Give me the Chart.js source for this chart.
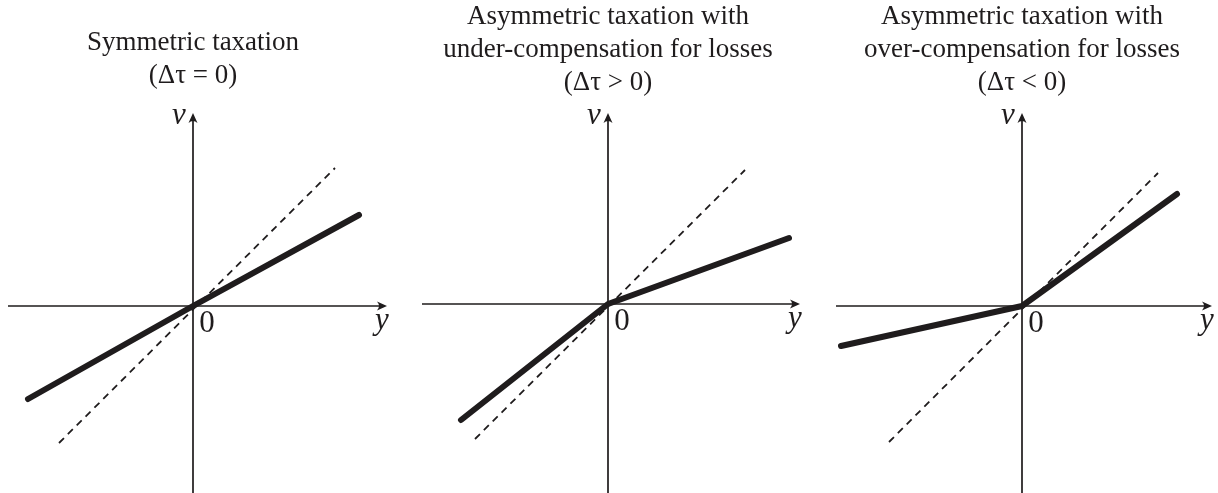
<!DOCTYPE html>
<html>
<head>
<meta charset="utf-8">
<script src="https://cdn.jsdelivr.net/npm/chart.js@4.4.0/dist/chart.umd.min.js"></script>
<style>
    body { margin: 0; background: #fff; }
    .panel { position: absolute; top: 0; height: 493px; }
</style>
</head>
<body>
<div class="panel" style="left:0;width:405px"><canvas id="chart1" width="405" height="493"></canvas></div>
<div class="panel" style="left:405px;width:405px"><canvas id="chart2" width="405" height="493"></canvas></div>
<div class="panel" style="left:810px;width:408px"><canvas id="chart3" width="408" height="493"></canvas></div>
<script>
// Titles
const titles1 = ['Symmetric taxation', '(\u0394\u03c4 = 0)'];
const titles2 = ['Asymmetric taxation with', 'under-compensation for losses', '(\u0394\u03c4 > 0)'];
const titles3 = ['Asymmetric taxation with', 'over-compensation for losses', '(\u0394\u03c4 < 0)'];

// Axis labels
const xLabel = 'y';
const vLabel = 'v';
const originLabel = '0';

// Panel 1: symmetric taxation (y -> v)
const thick1Y = [-1.65, 0, 1.66];
const thick1V = [-0.93, 0, 0.91];
const dash1Y = [-1.34, 1.42];
const dash1V = [-1.37, 1.38];

// Panel 2: under-compensation for losses
const thick2Y = [-1.47, 0, 1.81];
const thick2V = [-1.16, 0, 0.66];
const dash2Y = [-1.33, 1.37];
const dash2V = [-1.35, 1.34];

// Panel 3: over-compensation for losses
const thick3Y = [-1.81, 0, 1.55];
const thick3V = [-0.40, 0, 1.12];
const dash3Y = [-1.33, 1.36];
const dash3V = [-1.36, 1.33];

const INK = '#1f1c1d';
const SERIF = "'Liberation Serif', 'Times New Roman', serif";

function toPoints(xs, vs) {
    return xs.map((x, i) => ({ x, y: vs[i] }));
}

function drawArrow(ctx, x, y, dir) {
    const len = 10, half = 4.5;
    ctx.save();
    ctx.translate(x, y);
    if (dir === 'up') ctx.rotate(-Math.PI / 2);
    ctx.beginPath();
    ctx.moveTo(0, 0);
    ctx.lineTo(-len, -half);
    ctx.quadraticCurveTo(-len * 0.6, 0, -len, half);
    ctx.closePath();
    ctx.fillStyle = INK;
    ctx.fill();
    ctx.restore();
}

// Axes through the origin with arrows, plus the y / v / 0 labels
const axesPlugin = {
    id: 'axes',
    beforeDatasetsDraw(chart, args, opts) {
        const ctx = chart.ctx;
        const sx = chart.scales.x, sy = chart.scales.y;
        const ox = sx.getPixelForValue(0), oy = sy.getPixelForValue(0);
        const x0 = sx.getPixelForValue(opts.xFrom), x1 = sx.getPixelForValue(opts.xTo);
        const y0 = sy.getPixelForValue(opts.vFrom), y1 = sy.getPixelForValue(opts.vTo);
        ctx.save();
        ctx.strokeStyle = INK;
        ctx.lineWidth = 1.7;
        ctx.beginPath();
        ctx.moveTo(x0, oy);
        ctx.lineTo(x1 - 6, oy);
        ctx.moveTo(ox, y0);
        ctx.lineTo(ox, y1 + 6);
        ctx.stroke();
        drawArrow(ctx, x1, oy, 'right');
        drawArrow(ctx, ox, y1, 'up');
        ctx.restore();
    },
    afterDraw(chart, args, opts) {
        const ctx = chart.ctx;
        const sx = chart.scales.x, sy = chart.scales.y;
        const ox = sx.getPixelForValue(0), oy = sy.getPixelForValue(0);
        const x1 = sx.getPixelForValue(opts.xTo);
        const y1 = sy.getPixelForValue(opts.vTo);
        ctx.save();
        ctx.fillStyle = INK;
        ctx.textAlign = 'center';
        ctx.textBaseline = 'alphabetic';
        ctx.font = 'italic 31px ' + SERIF;
        ctx.fillText(vLabel, ox - 14, y1 + 11);
        ctx.fillText(xLabel, x1 - 5, oy + 23);
        ctx.font = '31px ' + SERIF;
        ctx.fillText(originLabel, ox + 14, oy + 26);
        ctx.restore();
    }
};

function makePanel(id, title, titlePad, pad, thick, dashed, axes) {
    const ctx = document.getElementById(id).getContext('2d');
    return new Chart(ctx, {
        type: 'scatter',
        data: {
            datasets: [
                {
                    data: dashed,
                    showLine: true,
                    borderColor: INK,
                    borderWidth: 1.8,
                    borderDash: [7, 5.5],
                    pointRadius: 0
                },
                {
                    data: thick,
                    showLine: true,
                    borderColor: INK,
                    borderWidth: 6,
                    borderCapStyle: 'round',
                    borderJoinStyle: 'round',
                    pointRadius: 0
                }
            ]
        },
        options: {
            responsive: false,
            animation: false,
            events: [],
            layout: { padding: pad },
            scales: {
                x: { type: 'linear', min: -1.93, max: 1.93, display: false },
                y: { type: 'linear', min: -1.87, max: 1.9, display: false }
            },
            plugins: {
                legend: { display: false },
                tooltip: { enabled: false },
                title: {
                    display: true,
                    text: title,
                    color: INK,
                    font: { family: SERIF, size: 27, weight: 'normal', lineHeight: '33px' },
                    padding: titlePad
                },
                axes
            }
        },
        plugins: [axesPlugin]
    });
}

makePanel('chart1', titles1, { top: 26.5, bottom: 23.5 },
    { left: 0, right: 19, top: 0, bottom: 0 },
    toPoints(thick1Y, thick1V), toPoints(dash1Y, dash1V),
    { xFrom: -1.85, xTo: 1.94, vFrom: -1.9, vTo: 1.93 });

makePanel('chart2', titles2, { top: 0.5, bottom: 14.5 },
    { left: 10, right: 9, top: 0, bottom: 2 },
    toPoints(thick2Y, thick2V), toPoints(dash2Y, dash2V),
    { xFrom: -1.86, xTo: 1.92, vFrom: -1.92, vTo: 1.91 });

makePanel('chart3', titles3, { top: 0.5, bottom: 16.5 },
    { left: 19, right: 3, top: 0, bottom: 0 },
    toPoints(thick3Y, thick3V), toPoints(dash3Y, dash3V),
    { xFrom: -1.86, xTo: 1.90, vFrom: -1.9, vTo: 1.93 });
</script>
</body>
</html>
